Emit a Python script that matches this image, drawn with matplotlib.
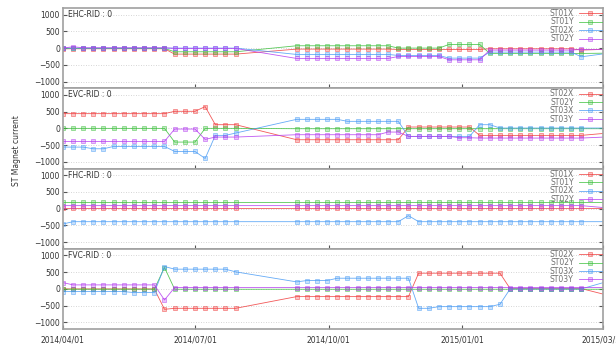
import numpy as np
import pandas as pd
import matplotlib
matplotlib.use('Agg')
import matplotlib.pyplot as plt
import matplotlib.transforms as mtransforms
from matplotlib.colors import to_rgba

nan = np.nan

# weekly readout dates, the last one sits just past the plotted range
dates = pd.date_range('2014-04-01', periods=55, freq='7D')

# ---- EHC ----
ehc_st01x = [
    -20, -20, -20, -20, -20, -20, -20, -20, -20, -20, -20,
    -180, -180, -180, -180, -180, -180, -180, nan, nan, nan, nan,
    nan, -30, -30, -30, -30, -30, -30, -30, -30, -30, -30,
    -40, -40, -40, -40, -40, -40, -40, -40, -40, -20, -20,
    -20, -20, -20, -20, -20, -20, -20, -60, nan, nan, -30]
ehc_st01y = [
    -10, -10, -10, -10, -10, -10, -10, -10, -10, -10, -10,
    -110, -110, -110, -110, -110, -110, -110, nan, nan, nan, nan,
    nan, 70, 70, 70, 70, 70, 70, 70, 70, 70, 70,
    0, 0, 0, 0, 0, 110, 110, 110, 110, -160, -160,
    -160, -160, -160, -160, -160, -160, -160, -160, nan, nan, -150]
ehc_st02x = [
    0, 0, 0, 0, 0, 0, 0, 0, 0, 0, 0,
    0, 0, 0, 0, 0, 0, 0, nan, nan, nan, nan,
    nan, -190, -190, -190, -190, -190, -190, -190, -190, -190, -190,
    -220, -220, -220, -220, -220, -300, -300, -300, -300, -120, -120,
    -120, -120, -120, -120, -120, -120, -120, -260, nan, nan, -140]
ehc_st02y = [
    0, 40, 10, 10, 10, 10, 10, 10, 10, 10, 10,
    -10, -10, -10, -10, -10, -10, -10, nan, nan, nan, nan,
    nan, -310, -310, -310, -310, -310, -310, -310, -310, -310, -310,
    -250, -250, -250, -250, -250, -350, -350, -350, -350, -60, -60,
    -60, -60, -60, -60, -60, -60, -60, -40, nan, nan, -40]

# ---- EVC ----
evc_st02x = [
    440, 440, 440, 440, 440, 440, 440, 440, 440, 440, 440,
    510, 510, 510, 650, 110, 110, 110, nan, nan, nan, nan,
    nan, -340, -340, -340, -340, -340, -340, -340, -340, -340, -340,
    -340, 40, 40, 40, 40, 40, 40, 40, -210, -210, -210,
    -210, -210, -210, -210, -210, -210, -210, -210, nan, nan, -130]
evc_st02y = [
    0, 0, 0, 0, 0, 0, 0, 0, 0, 0, 0,
    -410, -410, -410, 0, 0, 0, 0, nan, nan, nan, nan,
    nan, -10, -10, -10, -10, -10, -10, -10, -10, -10, -10,
    -10, -10, -10, -10, -10, -10, -10, -10, -10, -10, -10,
    -10, -10, -10, -10, -10, -10, -10, -10, nan, nan, -10]
evc_st03x = [
    -560, -560, -560, -610, -610, -540, -540, -540, -540, -540, -540,
    -690, -690, -690, -900, -210, -210, -140, nan, nan, nan, nan,
    nan, 270, 270, 270, 270, 270, 210, 210, 210, 210, 210,
    210, -240, -240, -240, -240, -240, -240, -240, 110, 110, 10,
    10, 10, 10, 10, 10, 10, 10, 10, nan, nan, 10]
evc_st03y = [
    -390, -390, -390, -390, -390, -390, -390, -390, -390, -390, -390,
    -20, -20, -20, -330, -260, -260, -260, nan, nan, nan, nan,
    nan, -190, -190, -190, -190, -190, -190, -190, -190, -190, -110,
    -110, -240, -240, -240, -240, -240, -280, -280, -290, -290, -290,
    -290, -290, -290, -290, -290, -290, -290, -290, nan, nan, -250]

# ---- FHC ----
fhc_st01x = [
    10, 10, 10, 10, 10, 10, 10, 10, 10, 10, 10,
    10, 10, 10, 10, 10, 10, 10, nan, nan, nan, nan,
    nan, 10, 10, 10, 10, 10, 10, 10, 10, 10, 10,
    10, 10, 10, 10, 10, 10, 10, 10, 10, 10, 10,
    10, 10, 10, 10, 10, 10, 10, 10, nan, nan, 10]
fhc_st01y = [
    210, 210, 210, 210, 210, 210, 210, 210, 210, 210, 210,
    210, 210, 210, 210, 210, 210, 210, nan, nan, nan, nan,
    nan, 210, 210, 210, 210, 210, 210, 210, 210, 210, 210,
    210, 210, 210, 210, 210, 210, 210, 210, 210, 210, 210,
    210, 210, 210, 210, 210, 210, 210, 210, nan, nan, 210]
fhc_st02x = [
    -460, -390, -390, -390, -390, -390, -390, -390, -390, -390, -390,
    -390, -390, -390, -390, -390, -390, -390, nan, nan, nan, nan,
    nan, -390, -390, -390, -390, -390, -390, -390, -390, -390, -390,
    -390, -210, -390, -390, -390, -390, -390, -390, -390, -390, -390,
    -390, -390, -390, -390, -390, -390, -390, -390, nan, nan, -390]
fhc_st02y = [
    90, 90, 90, 90, 90, 90, 90, 90, 90, 90, 90,
    90, 90, 90, 90, 90, 90, 90, nan, nan, nan, nan,
    nan, 90, 90, 90, 90, 90, 90, 90, 90, 90, 90,
    90, 90, 90, 90, 90, 90, 90, 90, 90, 90, 90,
    90, 90, 90, 90, 90, 90, 90, 90, nan, nan, 10]

# ---- FVC ----
fvc_st02x = [
    0, 0, 0, 0, 0, 0, 0, 0, 0, 0, -610,
    -580, -580, -580, -580, -580, -580, -580, nan, nan, nan, nan,
    nan, -230, -230, -230, -230, -230, -230, -230, -230, -230, -230,
    -230, -230, 470, 470, 470, 470, 470, 470, 470, 470, 470,
    10, 10, 10, 10, 10, 10, 10, 10, nan, nan, -220]
fvc_st02y = [
    -10, -10, -10, -10, -10, -10, -10, -10, -10, -10, 640,
    -10, -10, -10, -10, -10, -10, -10, nan, nan, nan, nan,
    nan, -10, -10, -10, -10, -10, -10, -10, -10, -10, -10,
    -10, -10, -10, -10, -10, -10, -10, -10, -10, -10, -10,
    -10, -10, -10, -10, -10, -10, -10, -10, nan, nan, -10]
fvc_st03x = [
    -80, -80, -80, -80, -80, -80, -80, -110, -110, -110, 670,
    590, 590, 590, 590, 590, 590, 510, nan, nan, nan, nan,
    nan, 210, 250, 250, 250, 320, 320, 320, 320, 320, 320,
    320, 320, -580, -580, -530, -530, -530, -530, -530, -530, -460,
    0, 0, 0, 0, 0, 0, 0, 0, nan, nan, 260]
fvc_st03y = [
    190, 120, 120, 120, 120, 120, 120, 120, 120, 120, -330,
    40, 40, 40, 40, 40, 40, 40, nan, nan, nan, nan,
    nan, 40, 40, 40, 40, 40, 40, 40, 40, 40, 40,
    40, 40, 40, 40, 40, 40, 40, 40, 40, 40, 40,
    40, 40, 40, 40, 40, 40, 40, 40, nan, nan, 40]

panels = [
    ('EHC-RID : 0', ['ST01X', 'ST01Y', 'ST02X', 'ST02Y'], [ehc_st01x, ehc_st01y, ehc_st02x, ehc_st02y]),
    ('EVC-RID : 0', ['ST02X', 'ST02Y', 'ST03X', 'ST03Y'], [evc_st02x, evc_st02y, evc_st03x, evc_st03y]),
    ('FHC-RID : 0', ['ST01X', 'ST01Y', 'ST02X', 'ST02Y'], [fhc_st01x, fhc_st01y, fhc_st02x, fhc_st02y]),
    ('FVC-RID : 0', ['ST02X', 'ST02Y', 'ST03X', 'ST03Y'], [fvc_st02x, fvc_st02y, fvc_st03x, fvc_st03y]),
]

tick_dates = ['2014-04-01', '2014-07-01', '2014-10-01', '2015-01-01', '2015-04-08']
tick_labels = ['2014/04/01', '2014/07/01', '2014/10/01', '2015/01/01', '2015/03/31']
colors = ['#f03c3c', '#3cc03c', '#4a9cf5', '#b43cf0']

fig, axes = plt.subplots(4, 1, sharex=True, figsize=(6.16, 3.46), dpi=100)
fig.subplots_adjust(left=0.102, right=0.979, top=0.977, bottom=0.049, hspace=0)

for ax, (title, names, series) in zip(axes, panels):
    for name, vals, c in zip(names, series, colors):
        v = np.array(vals, dtype=float)
        ok = ~np.isnan(v)
        ax.plot(dates[ok], v[ok], color=to_rgba(c, 0.85), lw=0.6, marker='s', ms=2.6,
                mfc=to_rgba(c, 0.3), mec=to_rgba(c, 0.65), mew=0.5, label=name)
    ax.set_ylim(-1200, 1200)
    ax.set_yticks([-1000, -500, 0, 500, 1000])
    ax.grid(axis='y', color='#c8c8c8', ls=(0, (1, 2)), lw=0.6)
    ax.tick_params(axis='y', direction='in', length=3, right=True, labelsize=5.5,
                   colors='#555555', labelcolor='#333333', pad=2)
    ax.tick_params(axis='x', direction='in', length=3, labelsize=5.5,
                   colors='#555555', labelcolor='#333333', pad=5)
    for s in ax.spines.values():
        s.set_color('#a0a0a0')
        s.set_linewidth(1.2)
    trans = mtransforms.blended_transform_factory(ax.transAxes, ax.transData)
    ax.text(0.009, 1000, title, transform=trans, fontsize=5.5, color='#333333', va='center')
    ax.legend(loc='upper right', frameon=False, markerfirst=False, fontsize=5.5,
              handlelength=3.0, handletextpad=0.7, borderaxespad=0, borderpad=0.15,
              labelspacing=-0.08, labelcolor='#707070', numpoints=1)

axes[-1].set_xlim(pd.Timestamp('2014-04-01'), pd.Timestamp('2015-04-08'))
axes[-1].set_xticks(pd.to_datetime(tick_dates))
axes[-1].set_xticklabels(tick_labels)

fig.text(0.027, 0.566, 'ST Magnet current', rotation=90, ha='center', va='center',
         fontsize=5.5, color='#333333')

fig.savefig('out.png', dpi=100)
